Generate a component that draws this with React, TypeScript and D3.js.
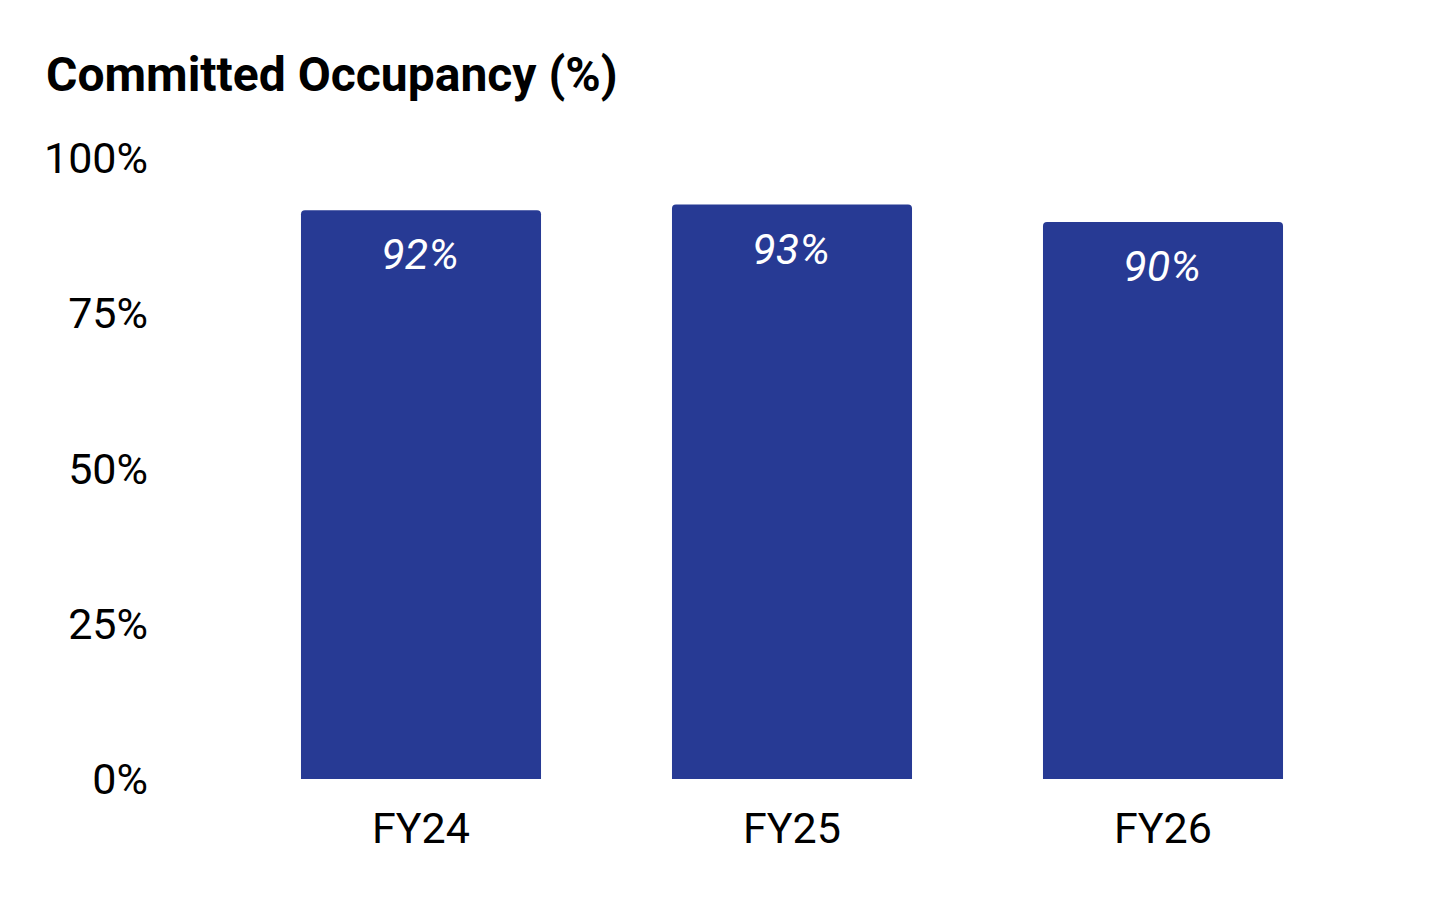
import React, {useEffect, useRef} from "react";
import * as d3 from "d3";

const title = "Committed Occupancy (%)";
const years = ["FY24", "FY25", "FY26"];
const occupancy = [91.6, 92.5, 89.7];
const yTicks = [0, 25, 50, 75, 100];

function createChart(el: SVGSVGElement) {
  const width = 1456,
    height = 901;
  const svg = d3.select(el);
  svg.selectAll("*").remove();
  svg.attr("width", width).attr("height", height);

  svg
    .append("rect")
    .attr("width", width)
    .attr("height", height)
    .attr("fill", "#ffffff");

  // Title
  svg
    .append("text")
    .attr("x", 46)
    .attr("y", 91)
    .attr("font-family", "Roboto")
    .attr("font-weight", 700)
    .attr("font-size", 48)
    .attr("fill", "#000")
    .text(title);

  const x = d3
    .scaleBand()
    .domain(years)
    .range([235.5, 1348.5])
    .paddingInner(0.353)
    .paddingOuter(0.1765);

  const y = d3.scaleLinear().domain([0, 100]).range([779, 158]);

  // Y tick labels (no axis line)
  svg
    .append("g")
    .selectAll("text")
    .data(yTicks)
    .enter()
    .append("text")
    .attr("x", 148)
    .attr("y", (d) => y(d))
    .attr("dy", "0.35em")
    .attr("text-anchor", "end")
    .attr("font-family", "Roboto")
    .attr("font-size", 43)
    .attr("fill", "#000")
    .text((d) => d + "%");

  // Bars with small rounded top corners
  const r = 4;
  svg
    .append("g")
    .selectAll("path")
    .data(years)
    .enter()
    .append("path")
    .attr("fill", "#273a94")
    .attr("d", (d, i) => {
      const x0 = x(d) as number;
      const x1 = x0 + x.bandwidth();
      const y0 = y(0);
      const y1 = y(occupancy[i]);
      return `M${x0},${y0}V${y1 + r}Q${x0},${y1} ${x0 + r},${y1}H${x1 - r}Q${x1},${y1} ${x1},${y1 + r}V${y0}Z`;
    });

  // Value labels inside the bars
  svg
    .append("g")
    .selectAll("text")
    .data(years)
    .enter()
    .append("text")
    .attr("x", (d) => (x(d) as number) + x.bandwidth() / 2 - 1)
    .attr("y", (d, i) => y(occupancy[i]) + 59)
    .attr("text-anchor", "middle")
    .attr("font-family", "Roboto")
    .attr("font-style", "italic")
    .attr("font-size", 43)
    .attr("fill", "#fff")
    .text((d, i) => Math.round(occupancy[i]) + "%");

  // X labels
  svg
    .append("g")
    .selectAll("text")
    .data(years)
    .enter()
    .append("text")
    .attr("x", (d) => (x(d) as number) + x.bandwidth() / 2)
    .attr("y", 843)
    .attr("text-anchor", "middle")
    .attr("font-family", "Roboto")
    .attr("font-size", 43)
    .attr("fill", "#000")
    .text((d) => d);
}

export default function App() {
  const ref = useRef<SVGSVGElement>(null);
  useEffect(() => {
    if (ref.current) createChart(ref.current);
  }, []);

  return (
    <div>
      <svg ref={ref} style={{position: "absolute", left: 0, top: 0}}></svg>
    </div>
  );
}
